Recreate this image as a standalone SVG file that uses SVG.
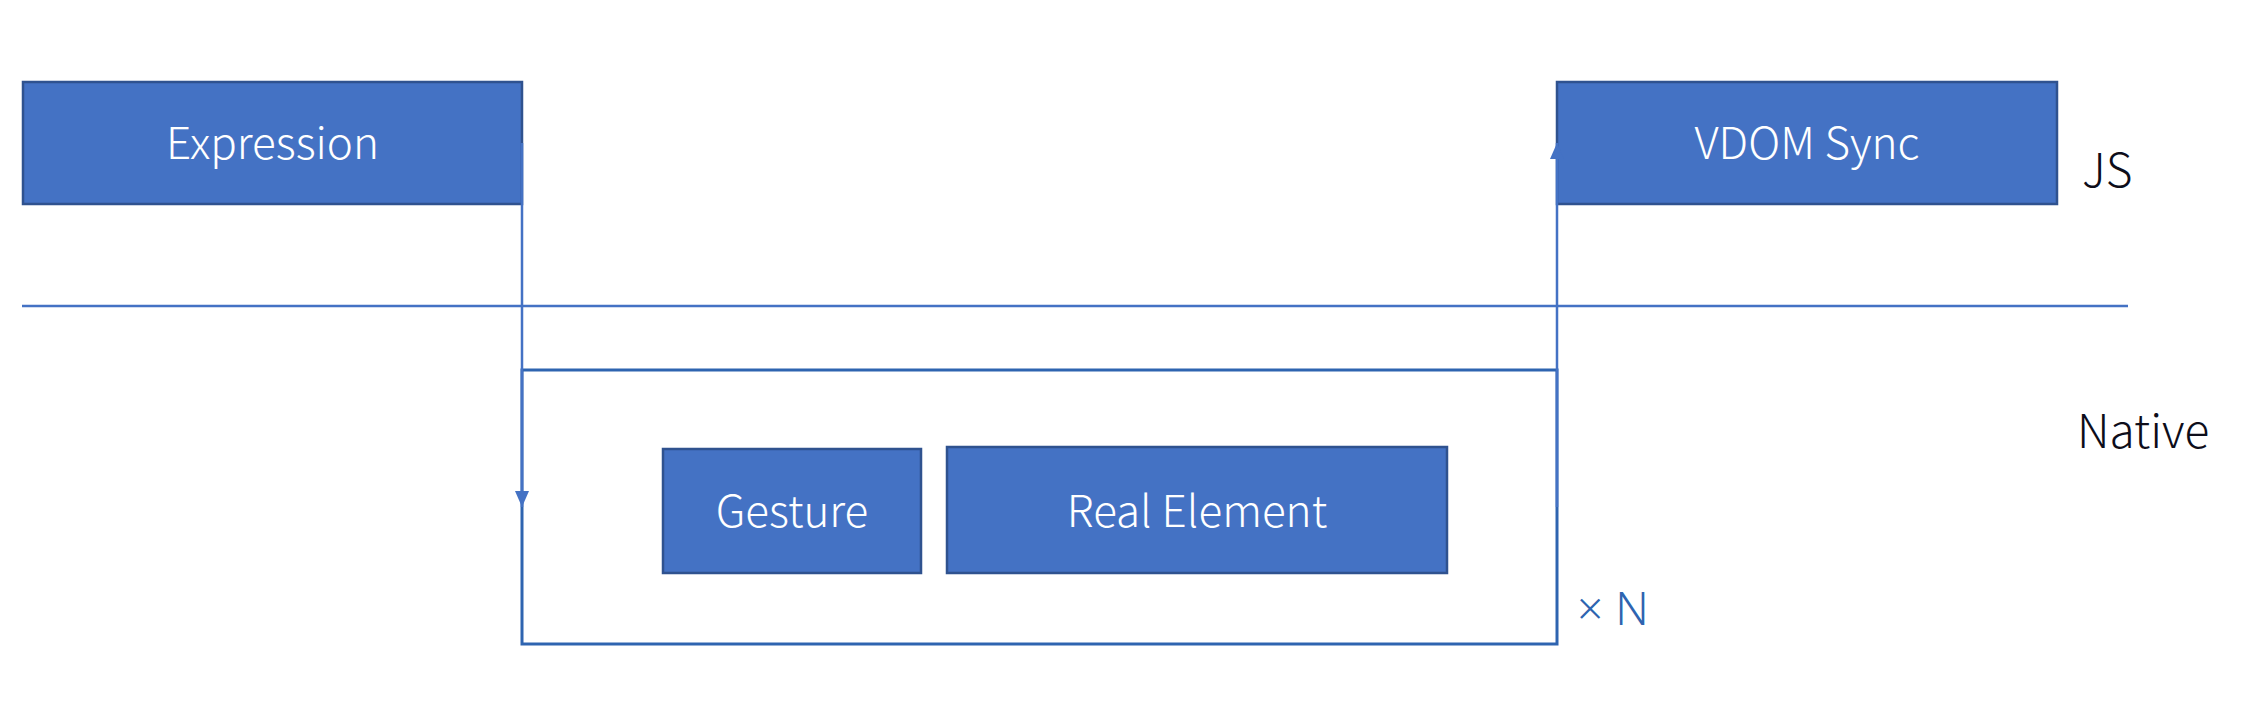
<svg xmlns="http://www.w3.org/2000/svg" width="2250" height="708" viewBox="0 0 2250 708">
<style>
.box{fill:#4472C4;stroke:#2F528F;stroke-width:2.5}
.lbl{font-family:"Noto Sans CJK SC","Noto Sans",sans-serif;font-weight:300;font-size:44px;fill:#FFFFFF;text-anchor:middle}
.side{font-family:"Noto Sans CJK SC","Noto Sans",sans-serif;font-weight:300;font-size:46px;fill:#0D0D1A}
.conn{fill:none;stroke:#4472C4;stroke-width:2.5}
</style>
<defs>
<marker id="arr" viewBox="0 0 16 14" refX="16" refY="7" markerWidth="16" markerHeight="14" markerUnits="userSpaceOnUse" orient="auto">
<path d="M0,0 L16,7 L0,14 Z" fill="#4472C4"/>
</marker>
</defs>
<rect width="2250" height="708" fill="#FFFFFF"/>
<g id="divider">
<line x1="22" y1="306" x2="2128" y2="306" stroke="#4472C4" stroke-width="2.5"/>
</g>
<g id="loop">
<rect x="522" y="370" width="1035" height="274" fill="none" stroke="#2E64B0" stroke-width="3"/>
<text x="1577" y="625" font-family="'Noto Sans','Liberation Sans',sans-serif" font-weight="300" font-size="46" fill="#2E64B0">× N</text>
</g>
<g id="expression">
<rect class="box" x="23" y="82" width="499" height="122"/>
<text class="lbl" x="272.5" y="159">Expression</text>
</g>
<g id="vdom-sync">
<rect class="box" x="1557" y="82" width="500" height="122"/>
<text class="lbl" x="1807" y="159">VDOM Sync</text>
</g>
<g id="gesture">
<rect class="box" x="663" y="449" width="258" height="124"/>
<text class="lbl" x="792" y="527">Gesture</text>
</g>
<g id="real-element">
<rect class="box" x="947" y="447" width="500" height="126"/>
<text class="lbl" x="1197" y="527">Real Element</text>
</g>
<g id="labels">
<text class="side" x="2082" y="187">JS</text>
<text class="side" x="2077" y="448">Native</text>
</g>
<g id="connectors">
<path class="conn" d="M522,143 V507" marker-end="url(#arr)"/>
<path class="conn" d="M1557,507 V143" marker-end="url(#arr)"/>
</g>
</svg>
